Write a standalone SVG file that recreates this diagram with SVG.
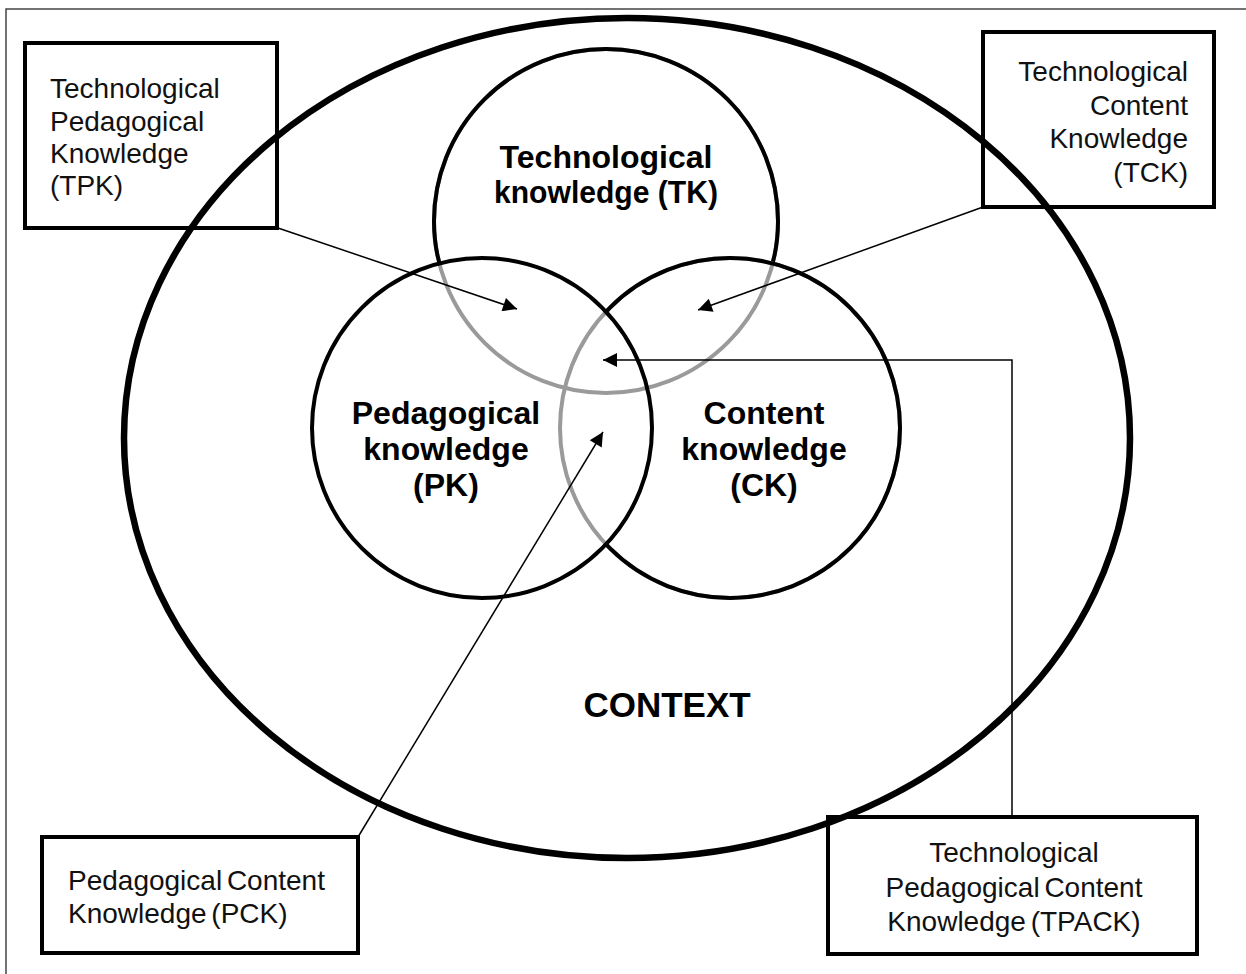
<svg xmlns="http://www.w3.org/2000/svg" width="1246" height="974" viewBox="0 0 1246 974">
<style>
.box{fill:none;stroke:#000;stroke-width:4}
.lbl{font-family:"Liberation Sans",Arial,sans-serif;font-size:28px;fill:#111}
.big{font-family:"Liberation Sans",Arial,sans-serif;font-size:32px;font-weight:bold;fill:#000;text-anchor:middle}
.blk{fill:none;stroke:#000;stroke-width:4}
.gry{fill:none;stroke:#9a9a9a;stroke-width:4}
.con{fill:none;stroke:#000;stroke-width:1.5}
</style>
<defs>
<marker id="arr" viewBox="0 0 10 10" refX="10" refY="5" markerWidth="20" markerHeight="14" markerUnits="userSpaceOnUse" orient="auto">
<path d="M0,0 L10,5 L0,10 z" fill="#000"/>
</marker>
<mask id="outPKCK" maskUnits="userSpaceOnUse" x="0" y="0" width="1246" height="974">
<rect x="0" y="0" width="1246" height="974" fill="#fff"/>
<circle cx="482" cy="428" r="170" fill="#000"/>
<circle cx="730" cy="428" r="170" fill="#000"/>
</mask>
<mask id="outPK" maskUnits="userSpaceOnUse" x="0" y="0" width="1246" height="974">
<rect x="0" y="0" width="1246" height="974" fill="#fff"/>
<circle cx="482" cy="428" r="170" fill="#000"/>
</mask>
</defs>
<rect x="0" y="0" width="1246" height="974" fill="#fff"/>
<rect x="6" y="9" width="1270" height="1000" fill="none" stroke="#444" stroke-width="1.5"/>

<g id="context">
<ellipse cx="627" cy="438" rx="503" ry="420" fill="none" stroke="#000" stroke-width="6.5"/>
<text x="667" y="717" class="big" style="font-size:35px">CONTEXT</text>
</g>

<g id="tk">
<circle cx="606" cy="221" r="172" class="gry"/>
<circle cx="606" cy="221" r="172" class="blk" mask="url(#outPKCK)"/>
<text class="big" x="606" y="168">Technological</text>
<text class="big" x="606" y="203" textLength="224" lengthAdjust="spacingAndGlyphs">knowledge (TK)</text>
</g>

<g id="ck">
<circle cx="730" cy="428" r="170" class="gry"/>
<circle cx="730" cy="428" r="170" class="blk" mask="url(#outPK)"/>
<text class="big" x="764" y="424">Content</text>
<text class="big" x="764" y="460">knowledge</text>
<text class="big" x="764" y="496">(CK)</text>
</g>

<g id="pk">
<circle cx="482" cy="428" r="170" class="blk"/>
<text class="big" x="446" y="424">Pedagogical</text>
<text class="big" x="446" y="460">knowledge</text>
<text class="big" x="446" y="496">(PK)</text>
</g>

<g id="connectors">
<line class="con" x1="278" y1="228" x2="517" y2="309" marker-end="url(#arr)"/>
<line class="con" x1="983" y1="207" x2="698" y2="310" marker-end="url(#arr)"/>
<polyline class="con" points="1012,817 1012,360 603,360" marker-end="url(#arr)"/>
<line class="con" x1="358" y1="837" x2="603" y2="432" marker-end="url(#arr)"/>
</g>

<g id="tpk">
<rect class="box" x="25" y="43" width="252" height="185"/>
<text class="lbl" x="50" y="98">Technological</text>
<text class="lbl" x="50" y="131">Pedagogical</text>
<text class="lbl" x="50" y="163">Knowledge</text>
<text class="lbl" x="50" y="195">(TPK)</text>
</g>

<g id="tck">
<rect class="box" x="983" y="32" width="231" height="175"/>
<text class="lbl" x="1188" y="81" text-anchor="end">Technological</text>
<text class="lbl" x="1188" y="114.5" text-anchor="end">Content</text>
<text class="lbl" x="1188" y="148" text-anchor="end">Knowledge</text>
<text class="lbl" x="1188" y="181.5" text-anchor="end">(TCK)</text>
</g>

<g id="pck">
<rect class="box" x="42" y="837" width="316" height="116"/>
<text class="lbl" x="68" y="890" style="word-spacing:-3px">Pedagogical Content</text>
<text class="lbl" x="68" y="923" style="word-spacing:-3px">Knowledge (PCK)</text>
</g>

<g id="tpack">
<rect class="box" x="828" y="817" width="369" height="137"/>
<text class="lbl" x="1014" y="862" text-anchor="middle">Technological</text>
<text class="lbl" x="1014" y="897" text-anchor="middle" style="word-spacing:-3px">Pedagogical Content</text>
<text class="lbl" x="1014" y="931" text-anchor="middle" style="word-spacing:-3px">Knowledge (TPACK)</text>
</g>
</svg>
